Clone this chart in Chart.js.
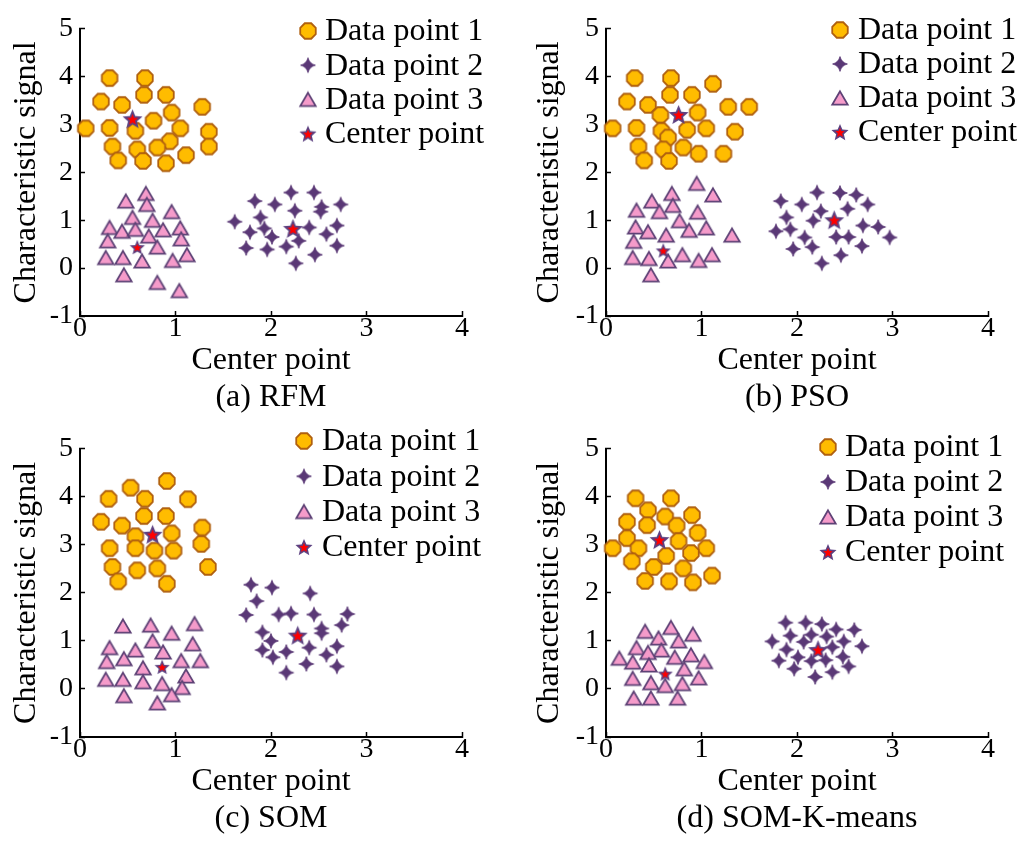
<!DOCTYPE html>
<html><head><meta charset="utf-8">
<script src="https://cdn.jsdelivr.net/npm/chart.js@4.4.1/dist/chart.umd.min.js"></script>
<style>
html,body{margin:0;padding:0;background:#fff;}
#wrap{position:relative;width:1029px;height:841px;overflow:hidden;background:#fff;}
canvas{position:absolute;}
</style></head><body>
<div id="wrap">
<canvas id="ca" width="520" height="420" style="left:0px;top:0px"></canvas>
<canvas id="cb" width="509" height="420" style="left:520px;top:0px"></canvas>
<canvas id="cc" width="520" height="421" style="left:0px;top:420px"></canvas>
<canvas id="cd" width="509" height="421" style="left:520px;top:420px"></canvas>
</div>
<script>
// ---------- data (x, y) ----------
const seriesNames = ['Data point 1', 'Data point 2', 'Data point 3', 'Center point'];
const xTitle = 'Center point';
const yTitle = 'Characteristic signal';
const captions = ['(a) RFM', '(b) PSO', '(c) SOM', '(d) SOM-K-means'];
const xRange = [0, 4];
const yRange = [-1, 5];

// (a) RFM
const rfmP1 = [[0.31,3.97],[0.68,3.97],[0.67,3.62],[0.90,3.62],[0.22,3.48],[0.44,3.41],[1.28,3.37],[0.96,3.25],[0.77,3.08],[0.06,2.92],[0.31,2.93],[0.58,2.87],[1.05,2.92],[1.35,2.85],[0.94,2.65],[0.34,2.54],[0.60,2.48],[0.81,2.52],[1.35,2.54],[1.11,2.36],[0.40,2.25],[0.66,2.24],[0.90,2.19]];
const rfmP2 = [[2.21,1.58],[2.45,1.58],[1.83,1.40],[2.04,1.33],[2.53,1.28],[2.52,1.18],[2.73,1.33],[2.25,1.20],[1.89,1.06],[1.62,0.97],[1.93,0.83],[1.78,0.75],[2.01,0.65],[2.40,0.85],[2.69,0.89],[2.58,0.71],[2.29,0.57],[2.16,0.45],[1.74,0.42],[1.96,0.39],[2.69,0.47],[2.46,0.28],[2.26,0.10]];
const rfmP3 = [[0.69,1.56],[0.48,1.40],[0.70,1.33],[0.96,1.18],[0.55,1.06],[0.76,1.00],[0.31,0.85],[0.44,0.77],[0.58,0.81],[0.87,0.80],[1.05,0.84],[0.72,0.67],[0.29,0.57],[1.06,0.61],[0.81,0.44],[0.27,0.22],[0.45,0.22],[0.65,0.15],[0.97,0.16],[1.12,0.28],[0.46,-0.14],[0.81,-0.30],[1.04,-0.47]];
const rfmCenter = [[0.55,3.12],[2.23,0.83],[0.60,0.44]];

// (b) PSO
const psoP1 = [[0.30,3.97],[0.68,3.97],[1.12,3.85],[0.67,3.62],[0.90,3.62],[0.22,3.48],[0.44,3.41],[1.28,3.37],[1.50,3.37],[0.57,3.20],[0.96,3.25],[0.07,2.92],[0.32,2.93],[0.58,2.87],[0.85,2.89],[1.05,2.92],[1.35,2.85],[0.65,2.73],[0.34,2.54],[0.60,2.48],[0.81,2.52],[0.97,2.39],[1.23,2.39],[0.40,2.25],[0.66,2.24]];
const psoP2 = [[2.21,1.58],[2.45,1.57],[2.62,1.53],[1.83,1.40],[2.05,1.33],[2.74,1.33],[2.53,1.24],[2.25,1.19],[1.89,1.06],[2.17,0.99],[1.78,0.77],[1.93,0.81],[2.69,0.89],[2.85,0.86],[2.08,0.64],[2.41,0.65],[2.54,0.65],[2.97,0.64],[1.96,0.40],[2.16,0.44],[2.68,0.46],[2.46,0.27],[2.26,0.10]];
const psoP3 = [[0.95,1.77],[1.12,1.53],[0.69,1.56],[0.48,1.40],[0.70,1.31],[0.32,1.21],[0.56,1.18],[0.96,1.17],[0.77,0.99],[0.31,0.86],[0.44,0.76],[0.63,0.69],[0.87,0.79],[1.05,0.84],[1.32,0.69],[0.29,0.56],[0.28,0.22],[0.45,0.20],[0.65,0.15],[0.80,0.28],[0.97,0.16],[1.11,0.28],[0.47,-0.14]];
const psoCenter = [[0.76,3.21],[2.39,1.01],[0.60,0.37]];

// (c) SOM
const somP1 = [[0.91,4.33],[0.53,4.19],[0.30,3.96],[0.68,3.96],[1.13,3.95],[0.67,3.60],[0.90,3.60],[0.22,3.48],[0.44,3.40],[1.28,3.36],[0.58,3.18],[0.96,3.24],[0.31,2.93],[0.58,2.93],[0.78,2.88],[0.98,2.88],[1.27,3.02],[0.34,2.54],[0.60,2.47],[0.81,2.51],[1.34,2.54],[0.40,2.24],[0.91,2.19]];
const somP2 = [[1.79,2.17],[2.01,2.11],[2.41,1.99],[1.85,1.83],[1.74,1.54],[2.08,1.55],[2.21,1.57],[2.45,1.55],[2.80,1.56],[2.74,1.33],[2.53,1.26],[2.53,1.16],[1.91,1.18],[2.00,1.00],[2.40,0.86],[2.69,0.89],[1.91,0.81],[2.16,0.77],[2.02,0.66],[2.58,0.71],[2.37,0.52],[2.69,0.47],[2.16,0.34]];
const somP3 = [[0.45,1.31],[0.74,1.33],[1.20,1.36],[0.96,1.16],[0.76,1.00],[1.18,0.94],[0.31,0.86],[0.58,0.81],[0.87,0.77],[0.28,0.57],[0.46,0.63],[1.06,0.59],[1.26,0.59],[0.66,0.44],[0.27,0.20],[0.45,0.20],[0.66,0.15],[0.86,0.11],[1.11,0.27],[1.07,0.03],[0.46,-0.14],[0.96,-0.12],[0.81,-0.29]];
const somCenter = [[0.76,3.22],[2.28,1.12],[0.86,0.46]];

// (d) SOM-K-means
const skmP1 = [[0.31,3.97],[0.68,3.97],[0.44,3.72],[0.62,3.59],[0.90,3.62],[0.22,3.48],[0.43,3.41],[0.74,3.40],[0.96,3.25],[0.22,3.14],[0.76,3.08],[0.07,2.93],[0.34,2.93],[1.05,2.93],[0.89,2.83],[0.63,2.77],[0.27,2.66],[0.50,2.54],[0.81,2.51],[1.11,2.36],[0.41,2.25],[0.66,2.24],[0.91,2.22]];
const skmP2 = [[1.88,1.38],[2.09,1.38],[2.26,1.35],[2.41,1.24],[2.60,1.23],[1.93,1.11],[2.15,1.13],[2.31,1.09],[1.74,0.99],[2.07,0.98],[2.49,0.99],[2.68,0.89],[2.37,0.87],[1.89,0.82],[2.01,0.66],[1.81,0.59],[2.15,0.58],[2.30,0.60],[2.48,0.67],[1.97,0.42],[2.37,0.35],[2.54,0.47],[2.19,0.25]];
const skmP3 = [[0.68,1.28],[0.41,1.20],[0.55,1.06],[0.91,1.14],[0.76,1.00],[0.32,0.86],[0.58,0.81],[0.44,0.76],[0.89,0.71],[0.72,0.66],[0.14,0.64],[0.28,0.56],[0.45,0.50],[1.03,0.57],[0.82,0.42],[0.28,0.22],[0.47,0.13],[0.62,0.07],[0.80,0.11],[0.97,0.23],[0.29,-0.19],[0.47,-0.19],[0.75,-0.19]];
const skmCenter = [[0.56,3.11],[2.22,0.82],[0.62,0.32]];

// ---------- marker images ----------
function mk(w, h, draw) {
  const c = document.createElement('canvas');
  c.width = w; c.height = h;
  draw(c.getContext('2d'), w / 2, h / 2);
  return c;
}
const imgOct = mk(20, 20, (g, cx, cy) => {
  const r = 8.4;
  g.beginPath();
  for (let i = 0; i < 8; i++) {
    const a = Math.PI / 8 + i * Math.PI / 4;
    const x = cx + r * Math.cos(a), y = cy + r * Math.sin(a);
    if (i) g.lineTo(x, y); else g.moveTo(x, y);
  }
  g.closePath();
  g.fillStyle = '#FFBC00'; g.fill();
  g.lineWidth = 1.8; g.strokeStyle = '#B0600F'; g.stroke();
});
const imgStar4 = mk(18, 18, (g, cx, cy) => {
  const R = 7.4, ri = 2.1;
  g.beginPath();
  for (let i = 0; i < 4; i++) {
    const a = -Math.PI / 2 + i * Math.PI / 2;
    const b = a + Math.PI / 4;
    if (!i) g.moveTo(cx + R * Math.cos(a), cy + R * Math.sin(a));
    g.quadraticCurveTo(cx + ri * Math.cos(b), cy + ri * Math.sin(b),
      cx + R * Math.cos(a + Math.PI / 2), cy + R * Math.sin(a + Math.PI / 2));
  }
  g.closePath();
  g.fillStyle = '#5A3876'; g.fill();
  g.lineWidth = 0.8; g.strokeStyle = '#5A3876'; g.stroke();
});
const imgTri = mk(20, 18, (g, cx, cy) => {
  const w = 15.4, h = 13.2;
  g.beginPath();
  g.moveTo(cx, cy - h / 2); g.lineTo(cx + w / 2, cy + h / 2); g.lineTo(cx - w / 2, cy + h / 2);
  g.closePath();
  g.fillStyle = '#F59BCA'; g.fill();
  g.lineWidth = 1.8; g.strokeStyle = '#5E4276'; g.stroke();
});
function star5(R) {
  const s = Math.ceil(R * 2 + 4);
  return mk(s, s, (g, cx, cy) => {
    cy += R * 0.1;
    const path = (RR) => {
      g.beginPath();
      for (let i = 0; i < 10; i++) {
        const a = -Math.PI / 2 + i * Math.PI / 5;
        const rr = i % 2 ? RR * 0.45 : RR;
        const x = cx + rr * Math.cos(a), y = cy + rr * Math.sin(a);
        if (i) g.lineTo(x, y); else g.moveTo(x, y);
      }
      g.closePath();
    };
    path(R); g.fillStyle = '#5C4080'; g.fill();
    path(R * 0.55); g.fillStyle = '#FF0000'; g.fill();
  });
}
const imgStarBig = star5(10.5);
const imgStarSmall = star5(8);
const legendImgs = [imgOct, imgStar4, imgTri, star5(9)];

// ---------- custom legend drawn inside plot ----------
const insideLegend = {
  id: 'insideLegend',
  afterDraw(chart, args, opts) {
    const ctx = chart.ctx;
    ctx.save();
    ctx.font = opts.font;
    ctx.fillStyle = '#000';
    ctx.textBaseline = 'middle';
    ctx.textAlign = 'left';
    seriesNames.forEach((name, i) => {
      const y = opts.y0 + i * opts.dy;
      const im = legendImgs[i];
      ctx.drawImage(im, opts.mx - im.width / 2, y - im.height / 2);
      ctx.fillText(name, opts.tx, y + 1);
    });
    ctx.restore();
  }
};

const toXY = arr => arr.map(p => ({x: p[0], y: p[1]}));

function makeChart(id, p1, p2, p3, pc, caption, L) {
  const ctx = document.getElementById(id);
  const W = ctx.width;
  const font = (s) => ({family: '"Liberation Serif", "Times New Roman", serif', size: s});
  new Chart(ctx, {
    type: 'scatter',
    data: {
      datasets: [
        {label: seriesNames[3], data: toXY(pc), pointStyle: [imgStarBig, imgStarBig, imgStarSmall], pointRadius: 9, order: 0, clip: false},
        {label: seriesNames[1], data: toXY(p2), pointStyle: imgStar4, pointRadius: 7, order: 1, clip: false},
        {label: seriesNames[2], data: toXY(p3), pointStyle: imgTri, pointRadius: 7, order: 2, clip: false},
        {label: seriesNames[0], data: toXY(p1), pointStyle: imgOct, pointRadius: 8, order: 3, clip: false}
      ]
    },
    options: {
      responsive: false,
      animation: false,
      devicePixelRatio: 1,
      layout: {padding: {left: 0, top: 20, right: W - L.right, bottom: 0}},
      plugins: {
        legend: {display: false},
        tooltip: {enabled: false},
        insideLegend: {font: '32px "Liberation Serif", "Times New Roman", serif', mx: L.mx, tx: L.tx, y0: L.y0, dy: L.dy}
      },
      scales: {
        x: {
          type: 'linear', min: xRange[0], max: xRange[1],
          afterFit: s => { s.height = 104; },
          border: {display: true, color: '#000', width: 2},
          grid: {display: true, drawOnChartArea: false, drawTicks: true, tickLength: -5, tickColor: '#000', tickWidth: 1.5},
          ticks: {stepSize: 1, color: '#000', font: font(28), padding: 1, maxRotation: 0, autoSkip: false},
          title: {display: true, text: [xTitle, caption], color: '#000', font: {...font(32), lineHeight: 1.15}, padding: {top: 0, bottom: 4}}
        },
        y: {
          type: 'linear', min: yRange[0], max: yRange[1],
          afterFit: s => { s.width = L.left; },
          border: {display: true, color: '#000', width: 2},
          grid: {display: true, drawOnChartArea: false, drawTicks: true, tickLength: -5, tickColor: '#000', tickWidth: 1.5},
          ticks: {stepSize: 1, color: '#000', font: font(28), padding: 12, autoSkip: false},
          title: {display: true, text: yTitle, color: '#000', font: {...font(32), lineHeight: 1.2}, padding: {top: L.ytp, bottom: 0}}
        }
      }
    },
    plugins: [insideLegend]
  });
}

makeChart('ca', rfmP1, rfmP2, rfmP3, rfmCenter, captions[0], {left: 80, right: 462, ytp: 7, mx: 308, tx: 325, y0: 31, dy: 34.2});
makeChart('cb', psoP1, psoP2, psoP3, psoCenter, captions[1], {left: 86, right: 468, ytp: 10, mx: 320, tx: 338, y0: 30, dy: 34});
makeChart('cc', somP1, somP2, somP3, somCenter, captions[2], {left: 80, right: 462, ytp: 7, mx: 304, tx: 322, y0: 21, dy: 35.3});
makeChart('cd', skmP1, skmP2, skmP3, skmCenter, captions[3], {left: 86, right: 468, ytp: 10, mx: 308, tx: 325, y0: 27, dy: 35});
</script>
</body></html>
